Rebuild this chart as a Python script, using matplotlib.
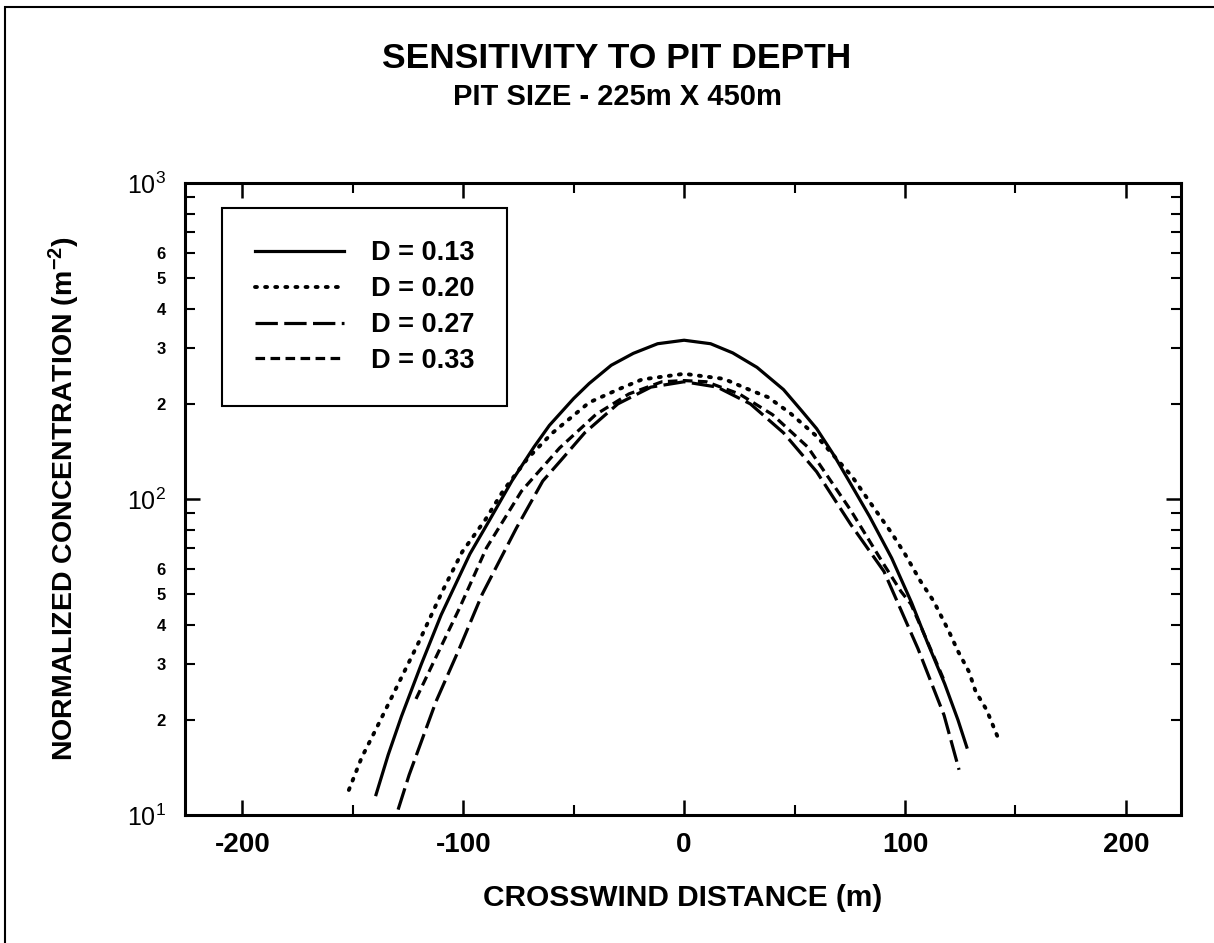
import matplotlib
matplotlib.use('Agg')
import matplotlib.pyplot as plt
from matplotlib.ticker import FixedLocator, FuncFormatter
from matplotlib.patches import Rectangle
import numpy as np

plt.rcParams['font.family'] = ['Liberation Sans', 'DejaVu Sans']
plt.rcParams['mathtext.default'] = 'regular'
plt.rcParams['axes.unicode_minus'] = False

# values (x in m, y in m^-2)
x_013 = [-139.5, -134, -128, -119, -110, -97, -88, -78, -68, -61, -50, -43, -33, -23, -12, 0,
         12, 22, 33, 45, 53, 60, 68, 75, 84, 94, 103, 110, 118, 124, 128]
y_013 = [11.6, 15.5, 20.5, 30, 43, 67, 86, 114, 146, 171, 208, 232, 265, 289, 310, 318,
         310, 290, 261, 222, 191, 167, 137, 113, 88, 65, 47, 35.4, 26, 20, 16.4]

x_020 = [-151.8, -146, -139.5, -130.5, -120, -109.5, -100.5, -90, -82, -71, -60, -43, -30, -19, 0,
         18, 30, 38, 48, 60, 76, 84, 94, 100, 107, 113, 120, 124, 129, 132, 137, 142.5]
y_020 = [12.0, 15.2, 18.7, 25.1, 35.4, 51, 68, 86, 106, 134, 161, 202, 222, 239, 249,
         240, 221, 210, 187, 158, 118, 98, 78, 67, 55, 47.5, 38, 33, 28.4, 24.6, 21.5, 17.3]

x_027 = [-129.5, -124.5, -112.3, -101.8, -91.4, -75.9, -64, -56, -45, -30, -15, 0,
         15, 30, 45, 60, 75.5, 90.5, 105.9, 117.7, 124.5]
y_027 = [10.4, 13.4, 22.9, 33.6, 50, 81, 114, 132, 162, 200, 226, 235,
         226, 200, 162, 122, 83, 59, 33.6, 20.7, 13.9]

x_033 = [-121.4, -114, -101.8, -89.5, -73.6, -56.4, -40, -25, -10, 0,
         10, 25, 40, 56, 75.5, 90.5, 98.2, 102.7, 110, 118]
y_033 = [23.3, 29.9, 45, 70, 106, 145, 185, 215, 235, 237,
         235, 215, 185, 146, 92, 62, 51, 46.5, 35.6, 26.4]

labels = ['D = 0.13', 'D = 0.20', 'D = 0.27', 'D = 0.33']

fig = plt.figure(figsize=(12.14, 9.43), dpi=100)
W, H = 1214, 943
ax = fig.add_axes([185/W, (H-815)/H, (1181-185)/W, (815-183)/H])

lw = 2.3
ax.plot(x_013, y_013, color='black', lw=lw, ls='-', label=labels[0])
ax.plot(x_020, y_020, color='black', lw=lw+0.5, ls=(0, (0.5, 2.1)), dash_capstyle='round', label=labels[1])
ax.plot(x_027, y_027, color='black', lw=lw, ls=(0, (7, 2)), label=labels[2])
ax.plot(x_033, y_033, color='black', lw=lw, ls=(0, (3, 1.7)), label=labels[3])

ax.set_yscale('log')
ax.set_xlim(-226, 225)
ax.set_ylim(10, 1000)

ax.set_xticks([-200, -100, 0, 100, 200])
ax.set_xticks([-150, -50, 50, 150], minor=True)
ax.set_yticks([10, 100, 1000])
ax.yaxis.set_major_formatter(FuncFormatter(lambda v, p: '$10^{%d}$' % round(np.log10(v))))
minors = [m*10**e for e in (1, 2) for m in range(2, 10)]
ax.yaxis.set_minor_locator(FixedLocator(minors))
def minor_fmt(v, p):
    m = int(round(v/10**np.floor(np.log10(v)+1e-9)))
    return str(m) if m <= 6 else ''
ax.yaxis.set_minor_formatter(FuncFormatter(minor_fmt))

ax.tick_params(which='both', direction='in', top=True, right=True, color='black')
ax.tick_params(which='major', length=11, width=1.8, labelsize=20, pad=12)
ax.tick_params(which='minor', length=7, width=1.5, pad=12)
ax.tick_params(axis='y', which='major', labelsize=18, pad=14)
ax.tick_params(axis='y', which='minor', labelsize=12, pad=14)
for t in ax.get_xticklabels() + ax.get_yticklabels(minor=True):
    t.set_fontweight('bold')
for s in ax.spines.values():
    s.set_linewidth(2.2)

ax.set_xlabel('CROSSWIND DISTANCE (m)', fontsize=21.5, fontweight='bold', labelpad=19)
ax.set_ylabel('NORMALIZED CONCENTRATION (m$^{-2}$)', fontsize=20.5, fontweight='bold', labelpad=32)

leg = ax.legend(loc='upper left', bbox_to_anchor=((222-185)/996, (815-208)/632),
                borderaxespad=0, prop={'size': 19.5, 'weight': 'bold'}, handlelength=3.3,
                handletextpad=1.0, labelspacing=0.36, borderpad=1.2, fancybox=False,
                framealpha=1, edgecolor='black')
leg.get_frame().set_linewidth(1.5)

fig.text(617/W, 1-58/H, 'SENSITIVITY TO PIT DEPTH', ha='center', va='center',
         fontsize=25.5, fontweight='bold')
fig.text(617/W, 1-97/H, 'PIT SIZE - 225m X 450m', ha='center', va='center',
         fontsize=21, fontweight='bold')

fig.patches.append(Rectangle((5/W, -0.1), 1.2, 1.1-7/H, transform=fig.transFigure,
                             fill=False, edgecolor='black', linewidth=1.5))

fig.savefig('out.png', dpi=100)
